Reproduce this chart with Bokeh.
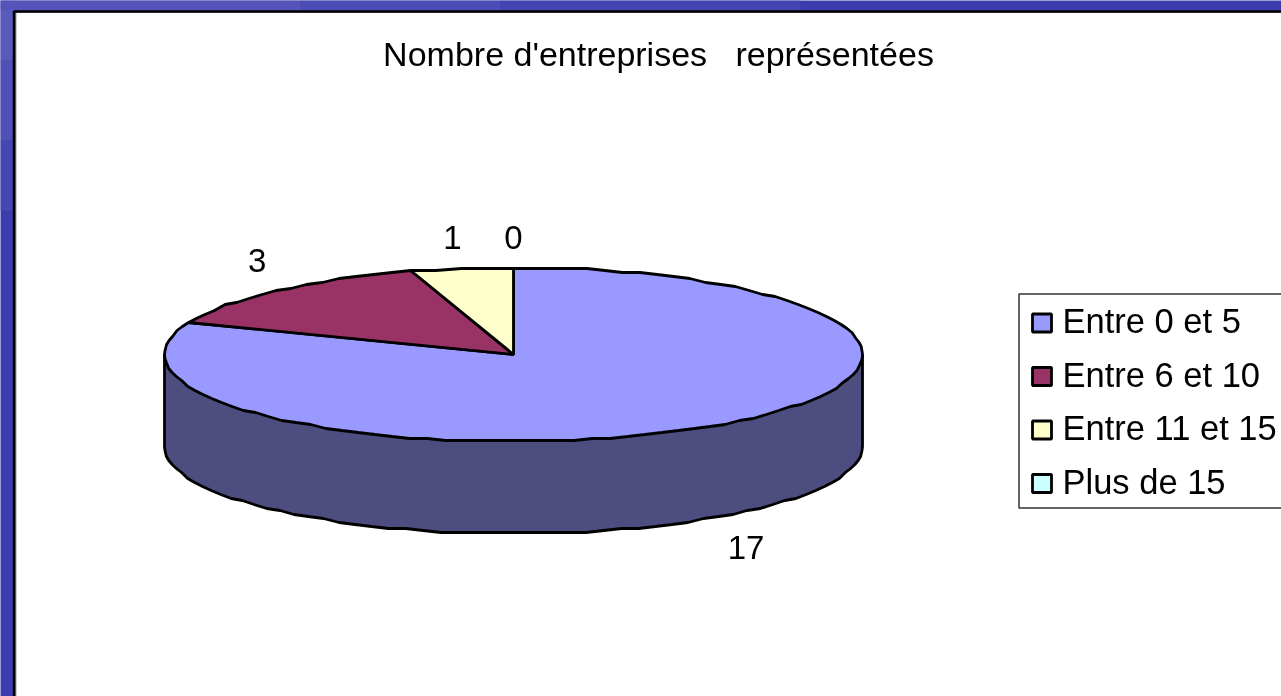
import numpy as np
from bokeh.models import Range1d
from bokeh.plotting import figure
from bokeh.core.properties import value
from bokeh.embed import file_html
from bokeh.resources import INLINE

title_text = "Nombre d'entreprises \u00a0 représentées"
categories = ["Entre 0 et 5", "Entre 6 et 10", "Entre 11 et 15", "Plus de 15"]
counts = [17, 3, 1, 0]
colors = ["#9999ff", "#993366", "#ffffcc", "#ccffff"]
side_color = "#4d4d7f"
bg_color = "#3c3cae"
FONT = value("Liberation Sans")

W, H = 1281, 696
CX, CY, RX, RY, DEPTH = 513, 354, 349, 87, 92
# label offsets from the slice's rim point, in px
label_dx = [36, -19, -9, 0]
label_dy = [29, -30, -31, -30]

p = figure(width=W, height=H, x_range=Range1d(0, W), y_range=Range1d(H, 0),
           toolbar_location=None, output_backend="svg", min_border=0,
           background_fill_color=bg_color, border_fill_color=bg_color,
           outline_line_color=None)
p.axis.visible = False
p.grid.visible = False
p.styles = {"position": "fixed", "left": "0", "top": "0"}

# lighter mottling of the slide background, top left
p.quad(left=[0, 0, 0, 0, 300, 500], right=[14, 14, 14, 300, 500, 800],
       top=[0, 60, 140, 0, 0, 0], bottom=[60, 140, 210, 10, 10, 10],
       fill_color=["#5a5abc", "#5050b6", "#4646b2", "#5454ba", "#4c4cb6", "#4444b2"], line_color=None)

# white panel
p.quad(left=[15.5], right=[W + 20], top=[12], bottom=[H + 20],
       fill_color="white", line_color="#999999", line_width=1)
p.quad(left=[13.5], right=[W + 20], top=[11], bottom=[H + 20],
       fill_color=None, line_color="black", line_width=2.5)
p.text(x=[658], y=[53], text=[title_text], text_font=FONT, text_font_size="34px",
       text_align="center", text_baseline="middle", text_color="black")


def rim(frac):
    t = 2 * np.pi * np.asarray(frac)
    return CX + RX * np.sin(t), CY - RY * np.cos(t)


def wobble(y):
    return np.round(np.asarray(y) / 2) * 2


total = sum(counts)
# side wall
f = np.linspace(0.25, 0.75, 61)
sx, sy = rim(f)
p.patch(np.r_[CX + RX, sx, CX - RX], np.r_[CY, wobble(sy + DEPTH), CY],
        fill_color=side_color, line_color="black", line_width=2.8)

# top face slices, clockwise from 12 o'clock
start = 0
for v, c in zip(counts, colors):
    if v > 0:
        n = max(2, int(120 * v / total))
        f = np.linspace(start, start + v, n) / total
        x, y = rim(f)
        p.patch(np.r_[CX, x], np.r_[CY, wobble(y)], fill_color=c, line_color="black", line_width=2.8)
    start += v

# value labels
start = 0
lx, ly = [], []
for v, dx, dy in zip(counts, label_dx, label_dy):
    mx, my = rim((start + v / 2) / total)
    if 0.25 < (start + v / 2) / total < 0.75:
        my = my + DEPTH
    lx.append(mx + dx)
    ly.append(my + dy)
    start += v
p.text(x=lx, y=ly, text=[str(v) for v in counts], text_font=FONT, text_font_size="33px",
       text_align="center", text_baseline="middle", text_color="black")

# legend
p.quad(left=[1018.5], right=[W + 20], top=[293.5], bottom=[507.5],
       fill_color="white", line_color="#333333", line_width=1.5)
rows = [322.5 + 53.5 * i for i in range(4)]
p.quad(left=[1032] * 4, right=[1051] * 4, top=[r - 9 for r in rows], bottom=[r + 9 for r in rows],
       fill_color=colors, line_color="black", line_width=2.8)
p.text(x=[1062] * 4, y=[r - 2 for r in rows], text=categories, text_font=FONT, text_font_size="34.5px",
       text_align="left", text_baseline="middle", text_color="black")

open("out.html", "w").write(file_html(p, INLINE))
